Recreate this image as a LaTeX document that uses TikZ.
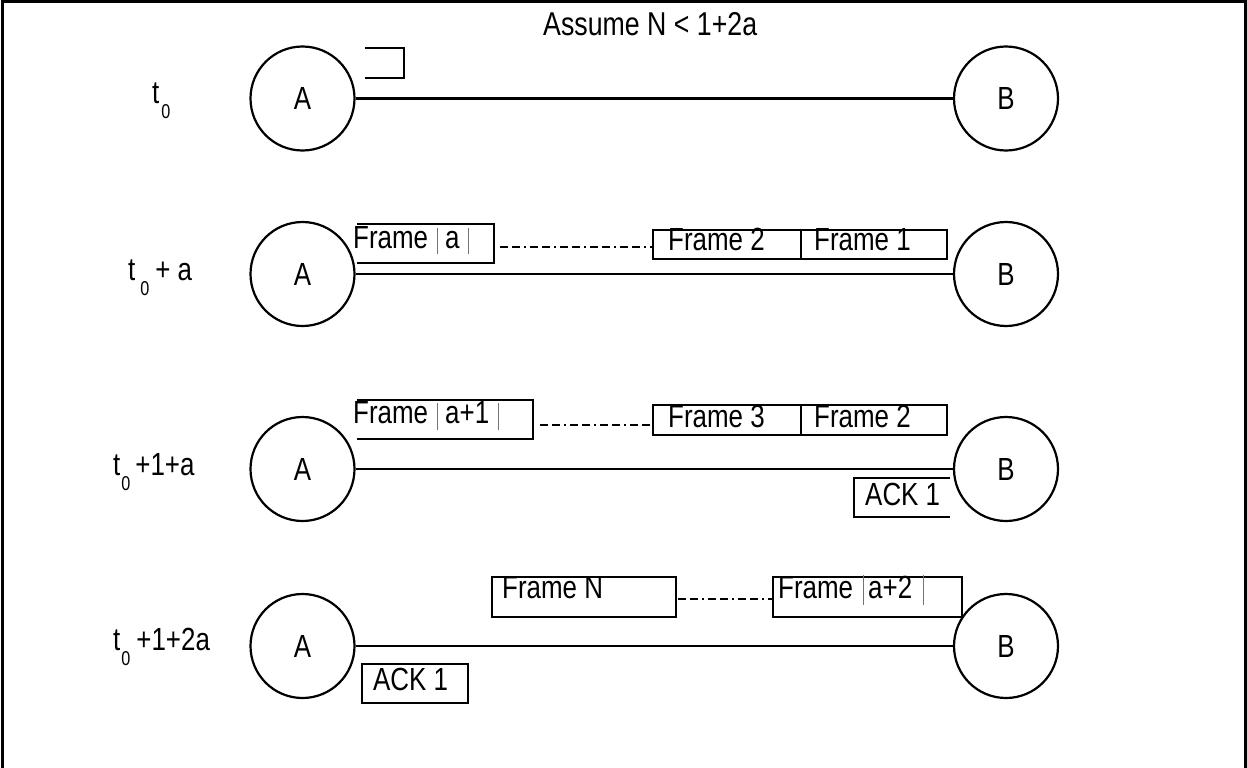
\documentclass[tikz,border=0pt]{standalone}
\usepackage{fontspec}
\setmainfont{Liberation Sans}[FakeStretch=0.81]
\newcommand\diagfont{\fontsize{32}{36}\selectfont}
\newcommand\titlefont{\fontsize{33}{38}\selectfont}
\newcommand\subzero{\fontsize{20}{20}\selectfont 0}
% time label: t, lowered subscript 0, then the offset
\newcommand\timelabel[3]{t\kern#1pt\raisebox{-15pt}{\subzero}\kern#2pt#3}
\begin{document}
\begin{tikzpicture}[x=1pt,y=-1pt,
  every node/.style={inner sep=0pt, font=\diagfont},
  station/.style={draw, circle, line width=2.2pt, minimum size=104pt},
  wire/.style={line width=2.2pt},
  frm/.style={line width=2.2pt},
  sep/.style={line width=0.8pt, draw=black!55},
  dots/.style={line width=2.2pt, dash pattern=on 8pt off 4pt on 8pt off 4pt on 2pt off 4pt},
  txt/.style={anchor=base west, inner sep=0pt}
]
\useasboundingbox (0,0) rectangle (1247,768);

% frame
\draw[line width=3pt] (2,768) -- (2,1.5) -- (1245,1.5) -- (1245,768);
\node[txt, font=\titlefont] (title) at (543,36) {Assume N < 1+2a};

% stations and links
\foreach \r/\y in {1/98.5, 2/274, 3/469, 4/646} {
  \node[station] (A\r) at (302.5,\y) {A};
  \node[station] (B\r) at (1006,\y) {B};
  \draw[wire] (A\r) -- (B\r);
}

% time labels
\node[txt] (t1) at (152,103) {\timelabel{2}{0}{}};
\node[txt] (t2) at (128,280) {\timelabel{5}{6}{+ a}};
\node[txt] (t3) at (113,475) {\timelabel{1}{5}{+1+a}};
\node[txt] (t4) at (113,650) {\timelabel{1}{6}{+1+2a}};

% row 1: sender starts
\draw[frm] (365,48) -- (404,48) -- (404,78) -- (365,78);

% row 2
\draw[frm] (357,224) -- (494,224) -- (494,263) -- (357,263);
\draw[sep] (437,228) -- (437,254);
\draw[sep] (468,228) -- (468,254);
\node[txt] at (353,248) {Frame};
\node[txt] at (445,248) {a};
\coordinate (d2a) at (500,247);
\coordinate (d2b) at (653,247);
\draw[dots] (d2a) -- (d2b);
\draw[frm] (653,230) rectangle (947,259);
\draw[frm] (801,230) -- (801,259);
\node[txt] at (668,250) {Frame 2};
\node[txt] at (814,250) {Frame 1};

% row 3
\draw[frm] (357,400) -- (533,400) -- (533,439) -- (357,439);
\draw[sep] (437,403) -- (437,430);
\draw[sep] (498,403) -- (498,430);
\node[txt] at (353,423) {Frame};
\node[txt] at (445,423) {a+1};
\coordinate (d3a) at (540,425);
\coordinate (d3b) at (653,425);
\draw[dots] (d3a) -- (d3b);
\draw[frm] (653,405) rectangle (947,435);
\draw[frm] (801,405) -- (801,435);
\node[txt] at (668,427) {Frame 3};
\node[txt] at (814,427) {Frame 2};
\draw[frm] (950,478) -- (854,478) -- (854,517) -- (950,517);
\node[txt] at (865,505) {ACK 1};

% row 4
\draw[frm] (492,577) rectangle (676,617);
\node[txt] at (502,598) {Frame N};
\coordinate (d4a) at (678,599);
\coordinate (d4b) at (773,599);
\draw[dots] (d4a) -- (d4b);
\draw[frm] (773,577) rectangle (962,617);
\draw[sep] (863,575) -- (863,605);
\draw[sep] (923,575) -- (923,605);
\node[txt] at (778,598) {Frame};
\node[txt] at (868,598) {a+2};
\draw[frm] (362,664) rectangle (468,703);
\node[txt] at (373,690) {ACK 1};
\end{tikzpicture}
\end{document}
